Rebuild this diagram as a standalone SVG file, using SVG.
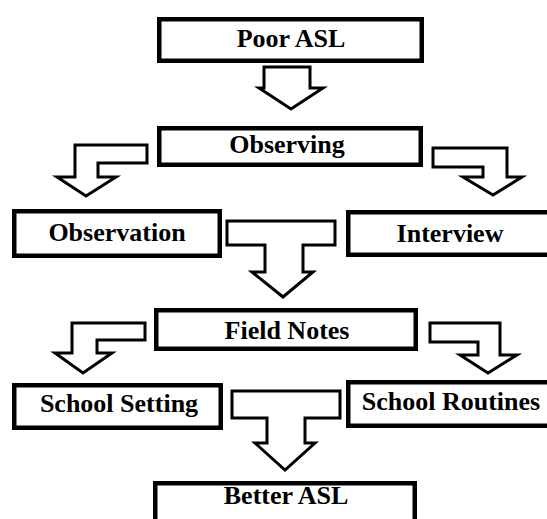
<svg xmlns="http://www.w3.org/2000/svg" width="547" height="519" viewBox="0 0 547 519">
<style>
.box{fill:#fff;stroke:#000;stroke-width:4.5}
.lbl{font-family:"Liberation Serif","Times New Roman",serif;font-weight:bold;font-size:26px;fill:#000;text-anchor:middle}
.arr{fill:#fff;stroke:#000;stroke-width:3;stroke-linejoin:miter}
</style>
<rect width="547" height="519" fill="#fff"/>
<g id="connectors">
<polygon class="arr" points="264,67 310,67 310,88 323,88 291,109 259,88 264,88"/>
<polygon class="arr" points="147,145 75,145 75,177 57,177 86,196 116,177 98,177 98,163 147,163"/>
<polygon class="arr" points="433,148 507,148 507,177 522,177 493,195 463,177 483,177 483,167 433,167"/>
<polygon class="arr" points="227,221 335,221 335,245 303,245 303,272 313,272 283,297 252,272 265,272 265,245 227,245"/>
<polygon class="arr" points="145,323 72,323 72,353 55,353 83,373 112,353 97,353 97,340 145,340"/>
<polygon class="arr" points="430,323 500,323 500,355 517,355 488,373 460,355 478,355 478,342 430,342"/>
<polygon class="arr" points="232,391 340,391 340,418 305,418 305,443 315,443 285,470 255,443 267,443 267,418 232,418"/>
</g>
<g id="poor-asl"><rect class="box" x="159.25" y="19.25" width="262.5" height="41.5"/><text class="lbl" x="291" y="47">Poor ASL</text></g>
<g id="observing"><rect class="box" x="159.25" y="128.25" width="261.5" height="36.5"/><text class="lbl" x="287" y="153">Observing</text></g>
<g id="observation"><rect class="box" x="14.25" y="211.25" width="205.5" height="44.5"/><text class="lbl" x="117" y="241">Observation</text></g>
<g id="interview"><rect class="box" x="348.25" y="212.25" width="205.5" height="42.5"/><text class="lbl" x="450" y="242">Interview</text></g>
<g id="field-notes"><rect class="box" x="156.25" y="310.25" width="259.5" height="38.5"/><text class="lbl" x="287" y="339">Field Notes</text></g>
<g id="school-setting"><rect class="box" x="14.25" y="385.25" width="206.5" height="42.5"/><text class="lbl" x="119" y="412">School Setting</text></g>
<g id="school-routines"><rect class="box" x="348.25" y="382.25" width="205.5" height="43.5"/><text class="lbl" x="451" y="410">School Routines</text></g>
<g id="better-asl"><rect class="box" x="155.25" y="483.25" width="259.5" height="42"/><text class="lbl" x="286" y="504">Better ASL</text></g>
</svg>
